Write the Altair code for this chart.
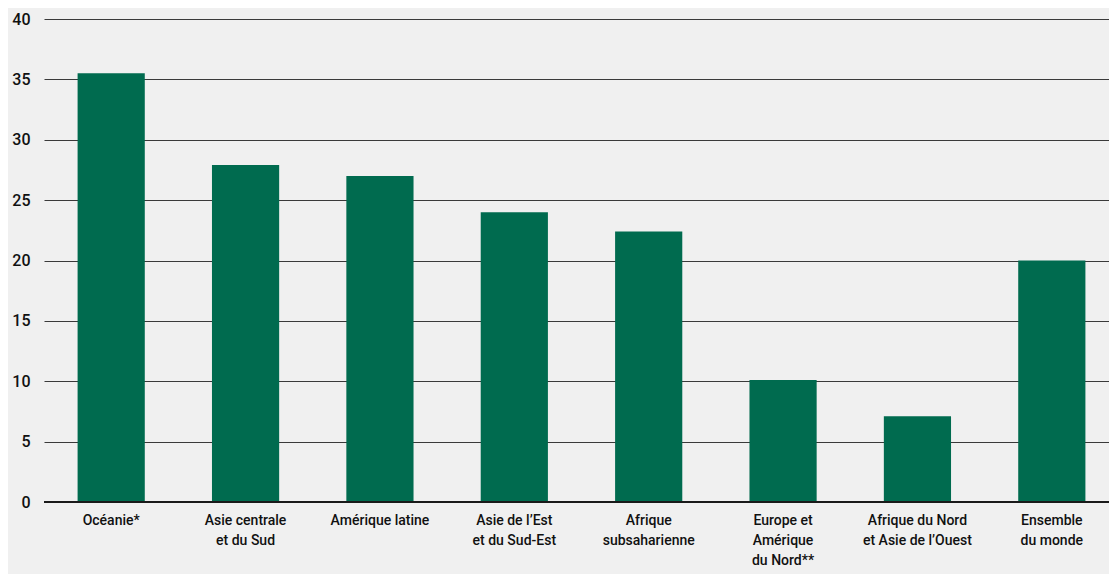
import altair as alt
import pandas as pd

categories = [
    "Océanie*",
    "Asie centrale\net du Sud",
    "Amérique latine",
    "Asie de l\u2019Est\net du Sud-Est",
    "Afrique\nsubsaharienne",
    "Europe et\nAmérique\ndu Nord**",
    "Afrique du Nord\net Asie de l\u2019Ouest",
    "Ensemble\ndu monde",
]
values = [35.5, 27.9, 27.0, 24.0, 22.4, 10.1, 7.1, 20.0]
y_ticks = [0, 5, 10, 15, 20, 25, 30, 35, 40]

df = pd.DataFrame({"cat": categories, "val": values})

FONT = "Roboto, sans-serif"

bars = alt.Chart(df).mark_bar(color="#006b4f").encode(
    x=alt.X(
        "cat:N",
        sort=categories,
        scale=alt.Scale(paddingInner=0.5, paddingOuter=0.25, range=[0, 1075]),
        axis=alt.Axis(
            title=None,
            labelAngle=0,
            labelExpr="split(datum.label, '\\n')",
            labelFont=FONT,
            labelFontSize=14,
            labelFontWeight=500,
            labelColor="#111111",
            labelPadding=11,
            labelLineHeight=20,
            ticks=False,
            domain=False,
            labelBaseline="top",
        ),
    ),
    y=alt.Y(
        "val:Q",
        scale=alt.Scale(domain=[0, 40], nice=False),
        axis=alt.Axis(
            title=None,
            values=y_ticks,
            labelFont=FONT,
            labelFontSize=16,
            labelFontWeight=500,
            labelColor="#111111",
            labelPadding=14,
            ticks=False,
            domain=False,
            grid=True,
            gridColor="#3a3a3a",
            gridWidth=1.2,
            gridOpacity=1,
        ),
    ),
)

zero = alt.Chart(pd.DataFrame({"z": [0]})).mark_rule(color="#1a1a1a", strokeWidth=2).encode(
    y="z:Q"
)

chart = (
    alt.layer(bars, zero)
    .properties(
        width=1065,
        height=483,
        background="#f0f0f0",
        autosize=alt.AutoSizeParams(type="none"),
        padding={"left": 36, "top": 11, "right": 0, "bottom": 72},
    )
    .configure_view(stroke=None)
)

chart.save("out.html", embed_options={"renderer": "svg", "actions": False})
